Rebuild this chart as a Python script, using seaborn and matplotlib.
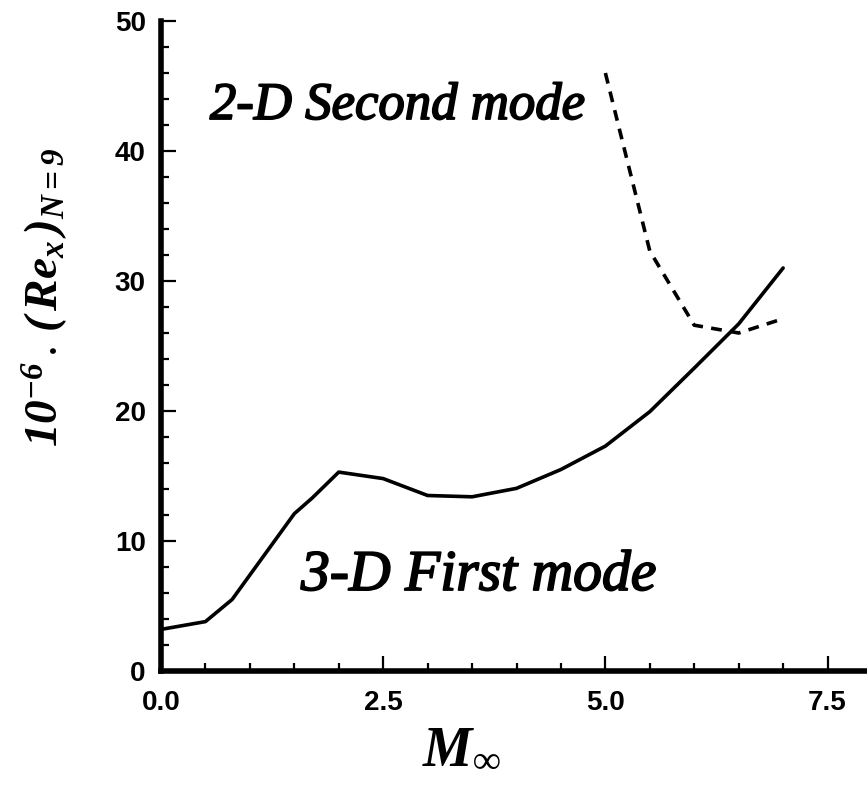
import matplotlib
matplotlib.use("Agg")
import matplotlib.pyplot as plt
import matplotlib.patheffects as pe
import pandas as pd
import seaborn as sns
from matplotlib.ticker import MultipleLocator, FixedLocator

# Transition Reynolds number (N = 9) versus free-stream Mach number
mach_first = [0.0, 0.5, 0.8, 1.5, 1.7, 2.0, 2.5, 3.0, 3.5, 4.0, 4.5, 5.0, 5.5, 6.0, 6.5, 7.0]
re_first = [3.2, 3.8, 5.5, 12.1, 13.3, 15.3, 14.8, 13.5, 13.4, 14.05, 15.5, 17.3, 19.95, 23.3, 26.7, 31.0]
mach_second = [5.0, 5.5, 6.0, 6.5, 7.0]
re_second = [46.0, 32.3, 26.6, 26.0, 27.1]

x_ticks = [0.0, 2.5, 5.0, 7.5]
x_ticklabels = ["0.0", "2.5", "5.0", "7.5"]
y_ticks = [0, 10, 20, 30, 40, 50]
y_ticklabels = ["0", "10", "20", "30", "40", "50"]

first = pd.DataFrame({"M": mach_first, "Re": re_first})
second = pd.DataFrame({"M": mach_second, "Re": re_second})

sns.set_style("ticks")
plt.rcParams["font.family"] = ["Liberation Sans", "DejaVu Sans"]
plt.rcParams["mathtext.fontset"] = "custom"
plt.rcParams["mathtext.rm"] = "Liberation Serif"
plt.rcParams["mathtext.it"] = "Liberation Serif:italic"
plt.rcParams["mathtext.bf"] = "Liberation Serif:bold"
plt.rcParams["mathtext.bfit"] = "Liberation Serif:bold:italic"

W, H = 867, 795
fig = plt.figure(figsize=(W / 100, H / 100), dpi=100)
ax_left, ax_right, ax_bottom, ax_top = 161, 872, 671, 21
ax = fig.add_axes([ax_left / W, 1 - ax_bottom / H,
                   (ax_right - ax_left) / W, (ax_bottom - ax_top) / H])

sns.lineplot(data=first, x="M", y="Re", color="black", lw=2.6, ax=ax,
             sort=False)
sns.lineplot(data=second, x="M", y="Re", color="black", lw=2.6, ax=ax,
             sort=False, linestyle=(0, (3.0, 2.3)))

ax.set_xlim(0, 8)
ax.set_ylim(0, 50)
ax.xaxis.set_major_locator(FixedLocator(x_ticks))
ax.set_xticklabels(x_ticklabels)
ax.yaxis.set_major_locator(FixedLocator(y_ticks))
ax.set_yticklabels(y_ticklabels)
ax.xaxis.set_minor_locator(MultipleLocator(0.5))
ax.yaxis.set_minor_locator(MultipleLocator(2))

for side in ("top", "right"):
    ax.spines[side].set_visible(False)
for side in ("left", "bottom"):
    ax.spines[side].set_linewidth(4.0)
    ax.spines[side].set_color("black")

ax.tick_params(which="major", direction="in", length=11, width=1.6,
               color="black", labelcolor="black", labelsize=20, pad=11)
ax.tick_params(which="minor", direction="in", length=6, width=1.6,
               color="black")
ax.tick_params(axis="x", which="major", pad=14)
for lbl in ax.get_xticklabels() + ax.get_yticklabels():
    lbl.set_fontweight("bold")

ax.set_xlabel("")
ax.set_ylabel("")

thick = [pe.withStroke(linewidth=1.3, foreground="black")]
serif = dict(family=["Liberation Serif", "DejaVu Serif"], style="italic",
             weight="normal", color="black", path_effects=thick)
ax.text(0.55, 42.46, "2-D Second mode", fontsize=38, va="baseline",
        ha="left", **serif)
ax.text(1.575, 6.23, "3-D First mode", fontsize=41.5, va="baseline",
        ha="left", **serif)

fig.text(45 / W, 1 - 297 / H,
         r"$\mathbfit{10^{-6}}\,.\,\mathbfit{(\,Re_{x}\,)_{N=9}}$",
         rotation=90, ha="center", va="center", fontsize=34, color="black")
fig.text(462 / W, 1 - 748 / H, r"$\mathbfit{M}_{\mathbf{\infty}}$",
         ha="center", va="center", fontsize=40, color="black")

fig.savefig("out.png", dpi=100)
